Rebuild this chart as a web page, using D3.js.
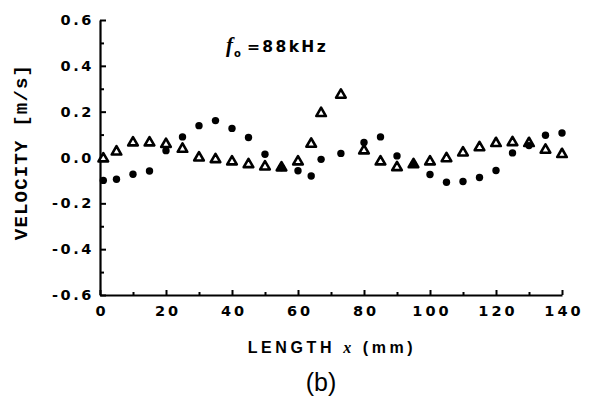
<!DOCTYPE html>
<html>
<head>
<meta charset="utf-8">
<script src="https://cdn.jsdelivr.net/npm/d3@7"></script>
<style>
  html, body { margin: 0; padding: 0; background: #fff; }
  svg { display: block; }
</style>
</head>
<body>
<svg id="chart" width="590" height="401"></svg>
<script>
// ---- data ----
const lengthMm = [1, 5, 10, 15, 20, 25, 30, 35, 40, 45, 50, 55, 60, 64, 67, 73, 80, 85, 90, 95, 100, 105, 110, 115, 120, 125, 130, 135, 140];
const velocityFilled = [-0.100, -0.095, -0.073, -0.059, 0.030, 0.090, 0.139, 0.161, 0.127, 0.087, 0.014, -0.044, -0.058, -0.081, -0.008, 0.018, 0.066, 0.090, 0.007, -0.030, -0.074, -0.108, -0.105, -0.087, -0.057, 0.020, 0.052, 0.097, 0.107];
const velocityOpen = [-0.005, 0.025, 0.065, 0.065, 0.058, 0.037, -0.001, -0.008, -0.018, -0.030, -0.040, -0.044, -0.018, 0.059, 0.193, 0.273, 0.030, -0.018, -0.043, -0.030, -0.018, -0.004, 0.021, 0.044, 0.062, 0.066, 0.062, 0.033, 0.014];
const xTicks = [0, 20, 40, 60, 80, 100, 120, 140];
const xMinorTicks = [10, 30, 50, 70, 90, 110, 130];
const yTicks = [-0.6, -0.4, -0.2, 0.0, 0.2, 0.4, 0.6];
const yTickLabels = ["-0.6", "-0.4", "-0.2", "0.0", "0.2", "0.4", "0.6"];
const yMinorTicks = [-0.5, -0.3, -0.1, 0.1, 0.3, 0.5];

const svg = d3.select("#chart");
const margin = {left: 100, top: 20, right: 28, bottom: 106};
const W = 590, H = 401;
const x = d3.scaleLinear().domain([0, 140]).range([margin.left, W - margin.right]);
const y = d3.scaleLinear().domain([-0.6, 0.6]).range([H - margin.bottom, margin.top]);

const tickFont = "'DejaVu Sans', sans-serif";

// y axis
const yAxis = svg.append("g").attr("transform", `translate(${margin.left},0)`)
  .call(d3.axisLeft(y).tickValues(yTicks).tickFormat((d, i) => yTickLabels[i])
        .tickSizeInner(-6).tickSizeOuter(0).tickPadding(6));
yAxis.select(".domain").attr("stroke", "#000").attr("stroke-width", 2.2);
yAxis.selectAll(".tick line").attr("stroke", "#000").attr("stroke-width", 2);
yAxis.selectAll(".tick text")
  .attr("font-family", tickFont).attr("font-weight", "bold").attr("font-size", 14.5)
  .attr("letter-spacing", "2.6px").attr("fill", "#000");
const yMinor = svg.append("g").attr("transform", `translate(${margin.left},0)`)
  .call(d3.axisLeft(y).tickValues(yMinorTicks).tickSizeInner(-4).tickSizeOuter(0).tickFormat(""));
yMinor.select(".domain").remove();
yMinor.selectAll(".tick line").attr("stroke", "#000").attr("stroke-width", 2);

// x axis
const xAxis = svg.append("g").attr("transform", `translate(0,${H - margin.bottom})`)
  .call(d3.axisBottom(x).tickValues(xTicks).tickFormat(d3.format("d"))
        .tickSizeInner(-5).tickSizeOuter(0).tickPadding(11));
xAxis.select(".domain").attr("stroke", "#000").attr("stroke-width", 2.2);
xAxis.selectAll(".tick line").attr("stroke", "#000").attr("stroke-width", 2);
xAxis.selectAll(".tick text")
  .attr("font-family", tickFont).attr("font-weight", "bold").attr("font-size", 14.5)
  .attr("letter-spacing", "3px").attr("dx", "1.5").attr("fill", "#000");
const xMinor = svg.append("g").attr("transform", `translate(0,${H - margin.bottom})`)
  .call(d3.axisBottom(x).tickValues(xMinorTicks).tickSizeInner(-3).tickSizeOuter(0).tickFormat(""));
xMinor.select(".domain").remove();
xMinor.selectAll(".tick line").attr("stroke", "#000").attr("stroke-width", 2);

// open triangles
const tri = d3.symbol().type(d3.symbolTriangle).size(40);
svg.append("g").selectAll("path").data(lengthMm.map((d, i) => [d, velocityOpen[i]]))
  .join("path")
  .attr("d", tri)
  .attr("transform", d => `translate(${x(d[0])},${y(d[1])})`)
  .attr("fill", "#fff").attr("stroke", "#000").attr("stroke-width", 2.6)
  .attr("stroke-linejoin", "round");

// filled circles
svg.append("g").selectAll("circle").data(lengthMm.map((d, i) => [d, velocityFilled[i]]))
  .join("circle")
  .attr("cx", d => x(d[0])).attr("cy", d => y(d[1])).attr("r", 3.7)
  .attr("fill", "#000");

// annotation f_o = 88kHz
const ann = svg.append("text").attr("x", 226).attr("y", 52).attr("fill", "#000");
ann.append("tspan").text("f").attr("font-family", "'Liberation Serif', serif")
  .attr("font-style", "italic").attr("font-weight", "bold").attr("font-size", 21);
ann.append("tspan").text("o").attr("font-family", tickFont).attr("font-weight", "bold")
  .attr("font-size", 10).attr("dy", 5).attr("dx", 1);
ann.append("tspan").text("=88kHz").attr("font-family", tickFont).attr("font-weight", "bold")
  .attr("font-size", 15.5).attr("letter-spacing", "2.4px").attr("dy", -5).attr("dx", 6);

// x axis title
const xt = svg.append("text").attr("x", 332).attr("y", 353).attr("text-anchor", "middle")
  .attr("font-family", "'Liberation Sans', sans-serif").attr("font-weight", "bold")
  .attr("font-size", 16).attr("letter-spacing", "3.6px").attr("fill", "#000");
xt.append("tspan").text("LENGTH ");
xt.append("tspan").text("x").attr("font-style", "italic").attr("font-family", "'Liberation Serif', serif");
xt.append("tspan").text(" (mm)");

// y axis title
svg.append("text").attr("transform", "translate(27,152) rotate(-90)")
  .attr("text-anchor", "middle")
  .attr("font-family", "'Liberation Mono', monospace").attr("font-weight", "bold")
  .attr("font-size", 19).attr("letter-spacing", "1.2px").attr("fill", "#000")
  .text("VELOCITY [m/s]");

// panel label
svg.append("text").attr("x", 321).attr("y", 391).attr("text-anchor", "middle")
  .attr("font-family", "'Liberation Sans', sans-serif").attr("font-size", 25).attr("fill", "#000")
  .text("(b)");
</script>
</body>
</html>
